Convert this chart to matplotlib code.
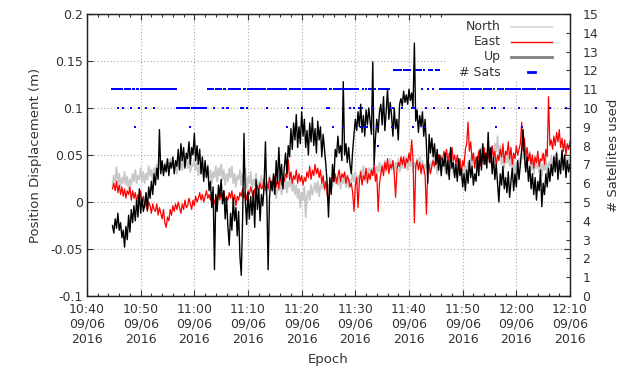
import numpy as np
import pandas as pd
import matplotlib
matplotlib.use('Agg')
import matplotlib.pyplot as plt
import matplotlib.dates as mdates
from matplotlib.patches import Rectangle

# displacement samples every 15 s from 10:44:45, in mm
north_mm = [18, 28, 22, 37, 20, 30, 16, 26,
            20, 32, 18, 27, 14, 24, 18, 30,
            22, 34, 20, 28, 24, 36, 22, 32,
            20, 30, 24, 38, 28, 34, 22, 36,
            30, 40, 28, 44, 34, 40, 30, 42,
            36, 44, 32, 46, 38, 42, 34, 40,
            30, 42, 36, 46, 34, 44, 38, 48,
            36, 44, 32, 40, 38, 46, 34, 42,
            28, 38, 30, 42, 26, 36, 32, 40,
            24, 34, 20, 32, 26, 38, 22, 36,
            28, 40, 24, 34, 18, 30, 22, 36,
            26, 38, 20, 30, 16, 28, 24, 34,
            18, 30, 22, 36, 14, 26, 20, 32,
            12, 24, 18, 30, 10, 22, 16, 28,
            14, 26, 8, 22, 12, 28, 18, 24,
            10, 20, 4, 16, 12, 24, 8, 18,
            14, 26, 10, 22, 16, 28, 12, 20,
            8, 18, 4, 14, -6, 10, 2, 16,
            -16, 6, 12, 2, 18, 8, 14, 20,
            10, 22, 6, 18, 14, 26, 12, 20,
            8, 18, 14, 24, 16, 28, 20, 26,
            18, 28, 14, 24, 20, 30, 16, 26,
            15, 24, 20, 30, 22, 32, 18, 28,
            24, 34, 26, 38, 22, 32, 28, 36,
            26, 36, 30, 40, 28, 38, 32, 42,
            30, 40, 34, 44, 32, 42, 36, 46,
            34, 44, 30, 42, 36, 46, 32, 40,
            36, 46, 40, 48, 34, 44, 38, 46,
            32, 42, 36, 46, 40, 48, 34, 44,
            30, 40, 36, 44, 32, 42, 38, 46,
            36, 44, 30, 40, 34, 46, 38, 42,
            32, 42, 28, 38, 34, 44, 30, 40,
            26, 36, 30, 40, 24, 34, 28, 38,
            30, 42, 34, 48, 38, 52, 36, 46,
            40, 54, 44, 58, 42, 50, 46, 56,
            44, 58, 40, 52, 48, 62, 54, 70,
            46, 60, 40, 52, 36, 48, 42, 50,
            38, 48, 34, 44, 30, 42, 36, 46,
            40, 52, 46, 58, 38, 50, 44, 54,
            34, 46, 30, 42, 36, 48, 32, 44,
            28, 40, 34, 46, 30, 42, 38, 48,
            36, 50, 40, 54, 38, 46, 42, 52,
            40, 50, 36, 46, 42, 48]

east_mm = [14, 20, 12, 22, 10, 18, 8, 16,
           6, 14, 4, 12, 8, 16, 2, 12,
           4, 10, 0, 8, 2, 12, -2, 6,
           -6, 2, -10, 0, -4, -12, -2, -8,
           -10, -2, -14, -6, -12, -18, -8, -22,
           -27, -16, -20, -8, -14, -4, -10, -2,
           -8, 0, -6, -12, -2, -8, 2, -6,
           -4, 4, -2, -8, 2, -4, 6, 0,
           4, 10, 2, 8, 0, 6, 12, 4,
           8, 2, 10, 4, -2, 6, 0, 8,
           2, 10, 4, 12, 0, 6, 2, 10,
           4, 12, 0, 8, -4, 6, 2, 10,
           6, 14, 4, 10, 2, 12, 8, 16,
           10, 4, 14, 8, 18, 12, 20, 14,
           16, 24, 12, 20, 14, 26, 18, 22,
           20, 28, 16, 24, 14, 30, 18, 26,
           22, 30, 26, 45, 24, 32, 20, 28,
           24, 34, 20, 30, 22, 28, 18, 26,
           22, 32, 26, 38, 24, 34, 28, 40,
           30, 36, 26, 34, 20, 28, 14, 22,
           8, -2, 12, 18, 26, 22, 30, 20,
           28, 34, 22, 30, 26, 32, 20, 28,
           24, 16, 20, 10, -10, 18, 26, -6,
           22, 32, 18, 28, 24, 36, 20, 30,
           24, 34, 28, 40, 22, 30, -10, 20,
           30, 38, 28, 42, 34, 46, 30, 40,
           36, 44, 30, 5, 34, 42, 38, 48,
           40, 48, 36, 46, 42, 52, 44, 66,
           46, -22, 38, 44, 34, 42, 30, 40,
           36, 28, -13, 34, 40, 30, 38, 44,
           38, 46, 42, 50, 40, 48, 44, 54,
           46, 56, 42, 52, 48, 58, 44, 50,
           40, 50, 34, 46, 30, 44, 38, 56,
           62, 85, 54, 64, 44, 52, 36, 48,
           42, 54, 38, 50, 44, 58, 40, 52,
           46, 56, 42, 60, 48, 54, 38, 50,
           44, 56, 48, 62, 42, 54, 50, 64,
           46, 58, 40, 52, 46, 60, 50, 56,
           62, 85, 54, 68, 48, 58, 44, 52,
           40, 50, 36, 48, 42, 54, 38, 46,
           44, 52, 40, 56, 48, 112, 60, 66,
           56, 70, 60, 74, 64, 77, 58, 68,
           54, 66, 50, 62, 56, 64]

up_mm = [-25, -33, -18, -28, -12, -30, -22, -38,
         -30, -48, -26, -40, -14, -32, -8, -22,
         -4, -20, 2, -16, 14, -12, 4, -10,
         -2, 10, -8, 16, 4, 22, 8, 30,
         18, 36, 24, 77, 30, 44, 28, 40,
         32, 46, 28, 42, 36, 48, 30, 44,
         38, 56, 34, 62, 44, 58, 36, 52,
         46, 64, 40, 58, 50, 73, 44, 60,
         40, 56, 30, 48, 22, 44, 26, 38,
         12, 22, -6, 16, -72, 8, -10, 18,
         6, 24, -2, 12, -18, 4, -26, -46,
         -12, -30, 4, -20, -6, -36, -10, -58,
         -78, -16, 73, 2, -24, 10, -18, 6,
         -14, 12, -27, 24, -8, 14, -20, 8,
         -4, 18, 64, 6, -72, 4, 22, 12,
         30, 8, 44, 20, 58, 24, 40, 14,
         36, 52, 30, 60, 48, 78, 56, 84,
         66, 93, 58, 80, 62, 96, 70, 88,
         58, 76, 50, 84, 64, 90, 60, 78,
         52, 86, 66, 80, 48, 72, 56, 40,
         20, -16, 26, 8, 40, 22, 56, 48,
         70, 52, 60, 44, 128, 50, 62, 42,
         58, 40, 30, 54, 72, 88, 76, 96,
         80, 104, 74, 92, 70, 98, 82, 100,
         86, 72, 149, 40, 68, 88, 74, 96,
         104, 82, 112, 76, 96, 120, 88, 106,
         92, 70, 100, 78, 88, 66, 104, 110,
         102, 118, 106, 114, 104, 120, 108, 116,
         100, 169, 86, 98, 74, 92, 80, 96,
         70, 88, 60, 20, 72, 52, 68, 48,
         62, 40, 56, 34, 50, 28, 46, 38,
         52, 30, 44, 24, 58, 36, 42, 26,
         40, 22, 46, 28, 36, 16, 30, 12,
         34, 20, 44, 26, 38, 18, 30, 22,
         48, 28, 56, 34, 62, 40, 52, 36,
         74, 42, 58, 30, 48, 24, 40, 20,
         0, 30, 18, 38, 14, 26, 10, 32,
         5, 22, 36, 12, 30, 16, 44, 24,
         40, 56, 77, 50, 32, 48, 22, 38,
         14, 30, 8, 26, 2, 22, 12, 34,
         -5, 20, 8, 30, 16, 36, 22, 40,
         28, 48, 32, 52, 24, 44, 30, 55,
         34, 50, 26, 44, 32, 40]

# satellites used, as (count, number of consecutive 15 s samples)
sat_counts = [11, 10, 11, 10, 11, 10, 11, 9, 11, 10, 11, 10, 11, 10, 11,
              10, 9, 10,
              11, 10, 11, 10, 11, 10, 11, 10, 11, 10,
              11, 10, 11, 9, 10, 11, 10,
              11, 10, 11, 9, 11, 9, 11, 10,
              11, 10, 11, 10, 9, 10, 11, 9, 11, 9, 11, 10, 11, 9, 8,
              11, 10, 9, 10,
              12, 10, 12, 10, 9, 10, 12, 11, 12, 9, 10, 11, 12, 11, 10, 12,
              11, 10, 11, 10, 11, 10, 11, 10, 11, 10, 9, 11, 10,
              11, 10, 11, 9, 11, 10, 11, 10, 11, 10, 11]
sat_runs = [4, 1, 3, 1, 5, 1, 2, 1, 2, 1, 4, 1, 5, 1, 16,
            10, 1, 12,
            5, 1, 5, 1, 2, 2, 9, 2, 2, 1,
            14, 1, 14, 1, 1, 9, 1,
            18, 2, 2, 1, 7, 1, 4, 1,
            2, 1, 3, 1, 1, 1, 1, 1, 1, 1, 3, 1, 2, 1, 1,
            8, 1, 1, 1,
            6, 1, 6, 1, 1, 1, 5, 1, 1, 1, 1, 1, 3, 1, 1, 3,
            6, 1, 15, 1, 9, 1, 6, 1, 1, 1, 1, 5, 1,
            10, 1, 1, 1, 10, 1, 9, 1, 11, 1, 3]

t0 = pd.Timestamp('2016-09-06 10:44:45')
t = pd.date_range(t0, periods=len(up_mm), freq='15s')
sats = np.repeat(sat_counts, sat_runs)
t_sats = pd.date_range(t0, periods=len(sats), freq='15s')

north = np.array(north_mm) / 1000.0
east = np.array(east_mm) / 1000.0
up = np.array(up_mm) / 1000.0

txt = '#333333'
plt.rcParams['font.size'] = 9
plt.rcParams['text.color'] = txt
plt.rcParams['axes.labelcolor'] = txt
plt.rcParams['xtick.color'] = txt
plt.rcParams['ytick.color'] = txt

fig = plt.figure(figsize=(6.25, 3.74), dpi=100)
ax = fig.add_axes([87 / 625, 78 / 374, 483 / 625, 282 / 374])
ax2 = ax.twinx()

ax.plot(t, north, color='#c8c8c8', lw=1.3, zorder=2)
ax.plot(t, east, color='#ff0000', lw=0.9, zorder=2.1)
ax.plot(t, up, color='#000000', lw=1.0, zorder=2.2)
ax2.plot(t_sats, sats, ls='none', marker='s', ms=1.8, mew=0, color='#0000ff')

ax.set_xlim(pd.Timestamp('2016-09-06 10:40'), pd.Timestamp('2016-09-06 12:10'))
ax.set_ylim(-0.1, 0.2)
ax.set_yticks(np.arange(-0.1, 0.201, 0.05))
ax.set_yticklabels(['-0.1', '-0.05', '0', '0.05', '0.1', '0.15', '0.2'])
ax2.set_ylim(0, 15)
ax2.set_yticks(range(0, 16))

ax.xaxis.set_major_locator(mdates.MinuteLocator(byminute=range(0, 60, 10)))
ax.xaxis.set_minor_locator(mdates.MinuteLocator(byminute=range(0, 60, 2)))
ax.xaxis.set_major_formatter(mdates.DateFormatter('%H:%M\n%m/%d\n%Y'))

ax.tick_params(axis='x', which='major', direction='in', top=True, length=4.5, width=0.8, pad=5)
ax.tick_params(axis='x', which='minor', direction='in', top=True, length=2.2, width=0.8)
ax.tick_params(axis='y', direction='in', right=True, length=4.5, width=0.8, pad=3)
ax2.tick_params(axis='y', direction='in', length=3, width=0.8, pad=9)

ax.grid(which='major', color='#a8a8a8', linestyle=(0, (1, 2)), lw=0.8)
ax.set_axisbelow(True)
for a in (ax, ax2):
    for s in a.spines.values():
        s.set_color('#222222')
        s.set_linewidth(0.9)

ax.set_xlabel('Epoch', labelpad=5, fontsize=9.5)
ax.set_ylabel('Position Displacement (m)', labelpad=6, fontsize=9.5)
ax2.set_ylabel('# Satellites used', labelpad=6, fontsize=9.5)

# key, drawn over the grid with the labels right-aligned
ax.add_patch(Rectangle((0.745, 0.76), 0.255, 0.24, transform=ax.transAxes,
                       facecolor='white', edgecolor='none', zorder=1))
keys = [('North', dict(color='#dddddd', lw=1.5)),
        ('East', dict(color='#ff0000', lw=1.0)),
        ('Up', dict(color='#808080', lw=2.0))]
key_y = [0.954, 0.901, 0.848, 0.794]
for (name, style), ky in zip(keys, key_y):
    ax.text(0.857, ky, name, ha='right', va='center', transform=ax.transAxes, zorder=3)
    ax.plot([0.878, 0.963], [ky, ky], transform=ax.transAxes, zorder=3, **style)
ax.text(0.857, key_y[3], '# Sats', ha='right', va='center', transform=ax.transAxes, zorder=3)
ax.plot([0.914, 0.928], [key_y[3], key_y[3]], transform=ax.transAxes, color='#0000ff', lw=2, zorder=3)

fig.savefig('out.png', dpi=100)
